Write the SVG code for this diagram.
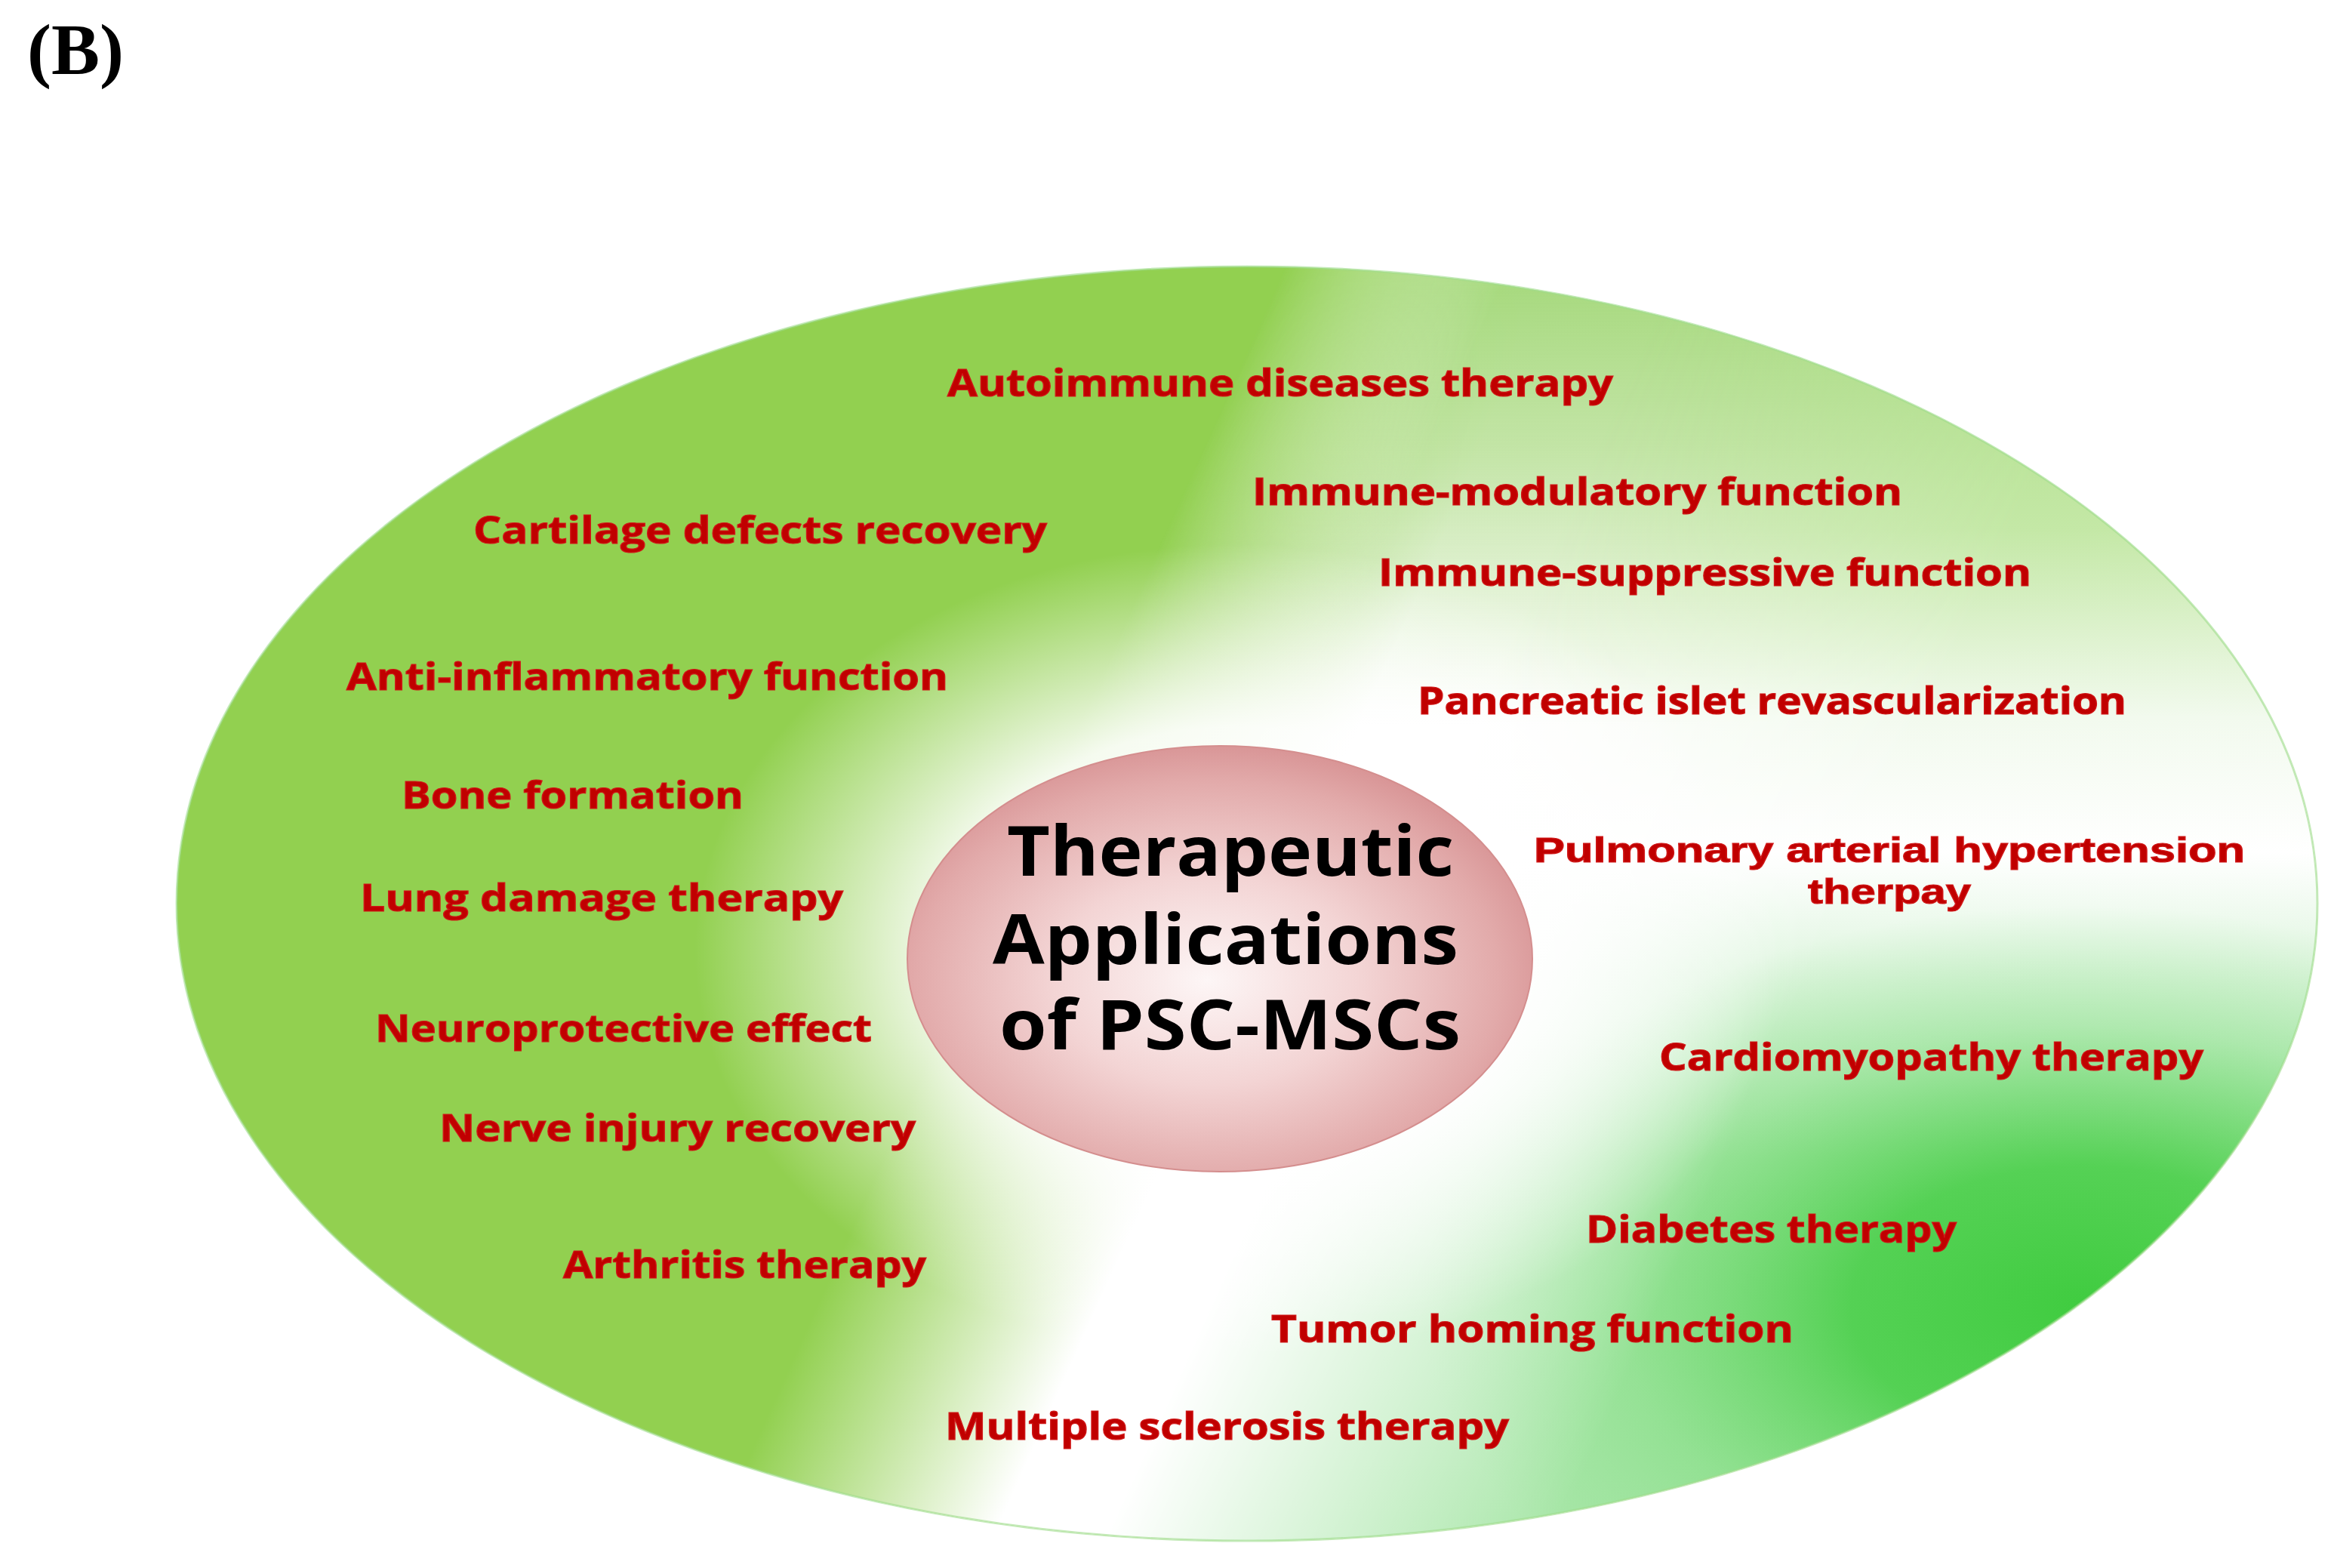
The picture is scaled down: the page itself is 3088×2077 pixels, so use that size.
<svg xmlns="http://www.w3.org/2000/svg" width="3088" height="2077" viewBox="0 0 3088 2077">
<style>
.lbl{font-family:"Open Sans","Noto Sans","Liberation Sans",sans-serif;font-weight:700;font-size:50px;fill:#C00000;stroke:#D01818;stroke-width:1.2px}
.lbl2{font-family:"Liberation Sans",Arial,sans-serif;font-weight:700;font-size:47px;fill:#C00000;stroke:#D01818;stroke-width:1.2px}
.title{font-family:"Open Sans","Noto Sans","Liberation Sans",sans-serif;font-weight:700;font-size:92px;fill:#000}
.tag{font-family:"Liberation Serif","Times New Roman",serif;font-weight:700;font-size:96px;fill:#000}
</style>
<defs>
<clipPath id="outerClip"><ellipse cx="1652" cy="1197" rx="1418" ry="844"/></clipPath>
<linearGradient id="tiltWhite" gradientUnits="userSpaceOnUse" x1="0" y1="0" x2="3094" y2="1394">
<stop offset="0.50" stop-color="#ffffff" stop-opacity="0"/>
<stop offset="0.60" stop-color="#ffffff" stop-opacity="1"/>
</linearGradient>
<linearGradient id="tiltMaskRight" gradientUnits="userSpaceOnUse" x1="0" y1="0" x2="3094" y2="1394">
<stop offset="0.64" stop-color="#000000"/>
<stop offset="0.80" stop-color="#ffffff"/>
</linearGradient>
<linearGradient id="tiltMaskBand" gradientUnits="userSpaceOnUse" x1="0" y1="0" x2="3094" y2="1394">
<stop offset="0.50" stop-color="#000000"/>
<stop offset="0.58" stop-color="#ffffff"/>
</linearGradient>
<mask id="rightMask" maskUnits="userSpaceOnUse" x="0" y="0" width="3088" height="2077"><rect width="3088" height="2077" fill="url(#tiltMaskRight)"/></mask>
<mask id="bandMask" maskUnits="userSpaceOnUse" x="0" y="0" width="3088" height="2077"><rect width="3088" height="2077" fill="url(#tiltMaskBand)"/></mask>
<linearGradient id="rightCol" gradientUnits="userSpaceOnUse" x1="0" y1="353" x2="0" y2="2041">
<stop offset="0" stop-color="#A6DA7E"/>
<stop offset="0.206" stop-color="#C4E8A6"/>
<stop offset="0.354" stop-color="#F2FAEE"/>
<stop offset="0.46" stop-color="#FFFFFF"/>
<stop offset="0.56" stop-color="#DDF5DD"/>
<stop offset="0.70" stop-color="#B6EAB6"/>
<stop offset="1" stop-color="#A8E6A8"/>
</linearGradient>
<linearGradient id="topTint" gradientUnits="userSpaceOnUse" x1="0" y1="353" x2="0" y2="960">
<stop offset="0" stop-color="#A4D87A" stop-opacity="1"/>
<stop offset="0.4" stop-color="#B4DE90" stop-opacity="0.8"/>
<stop offset="1" stop-color="#B4DE90" stop-opacity="0"/>
</linearGradient>
<radialGradient id="satGreen" cx="0.5" cy="0.5" r="0.5">
<stop offset="0" stop-color="#40CC40" stop-opacity="1"/>
<stop offset="0.35" stop-color="#44CD44" stop-opacity="0.85"/>
<stop offset="0.7" stop-color="#5CD45C" stop-opacity="0.3"/>
<stop offset="1" stop-color="#70D870" stop-opacity="0"/>
</radialGradient>
<radialGradient id="glowGrad" cx="0.5" cy="0.5" r="0.5">
<stop offset="0" stop-color="#ffffff" stop-opacity="1"/>
<stop offset="0.55" stop-color="#ffffff" stop-opacity="0.9"/>
<stop offset="1" stop-color="#ffffff" stop-opacity="0"/>
</radialGradient>
<radialGradient id="pinkFill" cx="0.48" cy="0.55" r="0.55">
<stop offset="0" stop-color="#FDF6F6"/>
<stop offset="0.45" stop-color="#F3D4D4"/>
<stop offset="0.85" stop-color="#E2AAAA"/>
<stop offset="1" stop-color="#D99697"/>
</radialGradient>
</defs>

<g id="background-ellipse">
<g clip-path="url(#outerClip)">
<rect x="0" y="0" width="3088" height="2077" fill="#92D050"/>
<rect x="0" y="0" width="3088" height="2077" fill="url(#tiltWhite)"/>
<rect x="0" y="0" width="3088" height="2077" fill="url(#topTint)" mask="url(#bandMask)"/>
<g mask="url(#rightMask)">
<rect x="0" y="0" width="3088" height="2077" fill="url(#rightCol)"/>
<ellipse cx="2760" cy="1730" rx="880" ry="530" fill="url(#satGreen)"/>
</g>
<ellipse cx="1640" cy="1260" rx="720" ry="540" fill="url(#glowGrad)"/>
</g>
<ellipse cx="1652" cy="1197" rx="1418" ry="844" fill="none" stroke="#9FDC8C" stroke-width="3" stroke-opacity="0.6"/>
</g>

<g id="center-node">
<ellipse cx="1616" cy="1270" rx="414" ry="282" fill="url(#pinkFill)" stroke="#D48E8E" stroke-width="2"/>
<text class="title" x="1334" y="1160" textLength="592" lengthAdjust="spacingAndGlyphs">Therapeutic</text>
<text class="title" x="1315" y="1277" textLength="617" lengthAdjust="spacingAndGlyphs">Applications</text>
<text class="title" x="1324" y="1390" textLength="611" lengthAdjust="spacingAndGlyphs">of PSC-MSCs</text>
</g>

<g id="connectors"/>

<g id="label-B"><text class="tag" x="36" y="98">(B)</text></g>

<g id="n-autoimmune"><text class="lbl" x="1255" y="525" textLength="882" lengthAdjust="spacingAndGlyphs">Autoimmune diseases therapy</text></g>
<g id="n-immune-modulatory"><text class="lbl" x="1659" y="669" textLength="861" lengthAdjust="spacingAndGlyphs">Immune-modulatory function</text></g>
<g id="n-cartilage"><text class="lbl" x="627" y="720" textLength="760" lengthAdjust="spacingAndGlyphs">Cartilage defects recovery</text></g>
<g id="n-immune-suppressive"><text class="lbl" x="1826" y="776" textLength="865" lengthAdjust="spacingAndGlyphs">Immune-suppressive function</text></g>
<g id="n-anti-inflammatory"><text class="lbl" x="459" y="914" textLength="797" lengthAdjust="spacingAndGlyphs">Anti-inflammatory function</text></g>
<g id="n-pancreatic"><text class="lbl" x="1878" y="946" textLength="939" lengthAdjust="spacingAndGlyphs">Pancreatic islet revascularization</text></g>
<g id="n-bone"><text class="lbl" x="532" y="1071" textLength="453" lengthAdjust="spacingAndGlyphs">Bone formation</text></g>
<g id="n-pulmonary"><text class="lbl2"><tspan x="2032" y="1142" textLength="942" lengthAdjust="spacingAndGlyphs">Pulmonary arterial hypertension</tspan><tspan x="2395" y="1197" textLength="216" lengthAdjust="spacingAndGlyphs">therpay</tspan></text></g>
<g id="n-lung"><text class="lbl" x="477" y="1207" textLength="640" lengthAdjust="spacingAndGlyphs">Lung damage therapy</text></g>
<g id="n-neuroprotective"><text class="lbl" x="497" y="1380" textLength="658" lengthAdjust="spacingAndGlyphs">Neuroprotective effect</text></g>
<g id="n-cardiomyopathy"><text class="lbl" x="2198" y="1418" textLength="721" lengthAdjust="spacingAndGlyphs">Cardiomyopathy therapy</text></g>
<g id="n-nerve"><text class="lbl" x="582" y="1512" textLength="631" lengthAdjust="spacingAndGlyphs">Nerve injury recovery</text></g>
<g id="n-diabetes"><text class="lbl" x="2101" y="1646" textLength="491" lengthAdjust="spacingAndGlyphs">Diabetes therapy</text></g>
<g id="n-arthritis"><text class="lbl" x="746" y="1693" textLength="481" lengthAdjust="spacingAndGlyphs">Arthritis therapy</text></g>
<g id="n-tumor"><text class="lbl" x="1684" y="1778" textLength="692" lengthAdjust="spacingAndGlyphs">Tumor homing function</text></g>
<g id="n-multiple-sclerosis"><text class="lbl" x="1252" y="1907" textLength="747" lengthAdjust="spacingAndGlyphs">Multiple sclerosis therapy</text></g>
</svg>
